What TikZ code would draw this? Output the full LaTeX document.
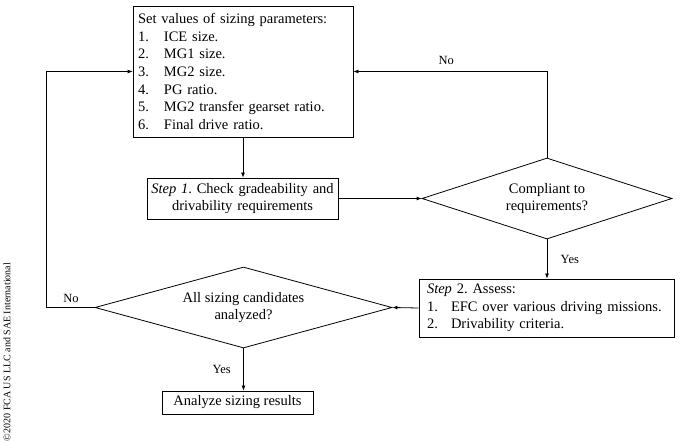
\documentclass[tikz,border=0pt]{standalone}
\usepackage{fontspec}
\setmainfont{Liberation Serif}
\usetikzlibrary{shapes,positioning,arrows.meta}
\frenchspacing

\tikzset{
  box/.style={draw, line width=0.8pt, inner sep=0pt, font=\fontsize{14.5}{17.6}\selectfont},
  decide/.style={draw, diamond, inner sep=0pt, line width=0.8pt, align=center, font=\fontsize{14.5}{17.6}\selectfont},
  flow/.style={-{Latex[length=5pt,width=4pt]}, line width=0.8pt},
  lbl/.style={font=\fontsize{12.5}{15}\selectfont}
}

\begin{document}
\begin{tikzpicture}[x=1pt,y=-1pt]
\useasboundingbox (0,0) rectangle (680,443);

% boxes
\node[box, text width=210pt, minimum height=131pt, inner xsep=5pt, align=left] (params) at (243,71.5) {Set values of sizing parameters:\\
\makebox[26pt][l]{1.}ICE size.\\
\makebox[26pt][l]{2.}MG1 size.\\
\makebox[26pt][l]{3.}MG2 size.\\
\makebox[26pt][l]{4.}PG ratio.\\
\makebox[26pt][l]{5.}MG2 transfer gearset ratio.\\
\makebox[26pt][l]{6.}Final drive ratio.};
\node[box, text width=191pt, minimum height=41pt, align=center] (step1) at (242.5,198.5) {\textit{Step 1}. Check gradeability and\\ drivability requirements};
\node[decide, aspect=3.1, minimum width=250pt, minimum height=81pt] (comply) at (547,198.5) {Compliant to\\ requirements?};
\node[box, text width=239pt, minimum height=58pt, inner xsep=8pt, align=left] (step2) at (546.5,308) {\textit{Step} 2. Assess:\\
\makebox[24pt][l]{1.}EFC over various driving missions.\\
\makebox[24pt][l]{2.}Drivability criteria.};
\node[decide, aspect=3.7, minimum width=297pt, minimum height=81pt] (allcand) at (243.5,307.5) {All sizing candidates\\ analyzed?};
\node[box, minimum width=151pt, minimum height=23pt] (result) at (237.5,402.5) {Analyze sizing results};

% connectors
\coordinate (back) at (46,71.5);
\draw[flow] (params.south) -- (params.south |- step1.north);
\draw[flow] (step1.east) -- (comply.west);
\draw[flow] (comply.north) |- (params.east) node[lbl, pos=0.76, above=3pt] {No};
\draw[flow] (comply.south) -- (comply.south |- step2.north) node[lbl, midway, right=10pt] {Yes};
\draw[flow] (step2.west) -- (allcand.east);
\draw[flow] (allcand.west) -| (back) -- (params.west);
\node[lbl, above=2pt] (no2) at (71,308) {No};
\draw[flow] (allcand.south) -- (allcand.south |- result.north) node[lbl, midway, left=9pt] {Yes};

\node[rotate=90, font=\fontsize{10}{12}\selectfont] (copyr) at (7,352) {\textcopyright 2020 FCA US LLC and SAE International};
\end{tikzpicture}
\end{document}
